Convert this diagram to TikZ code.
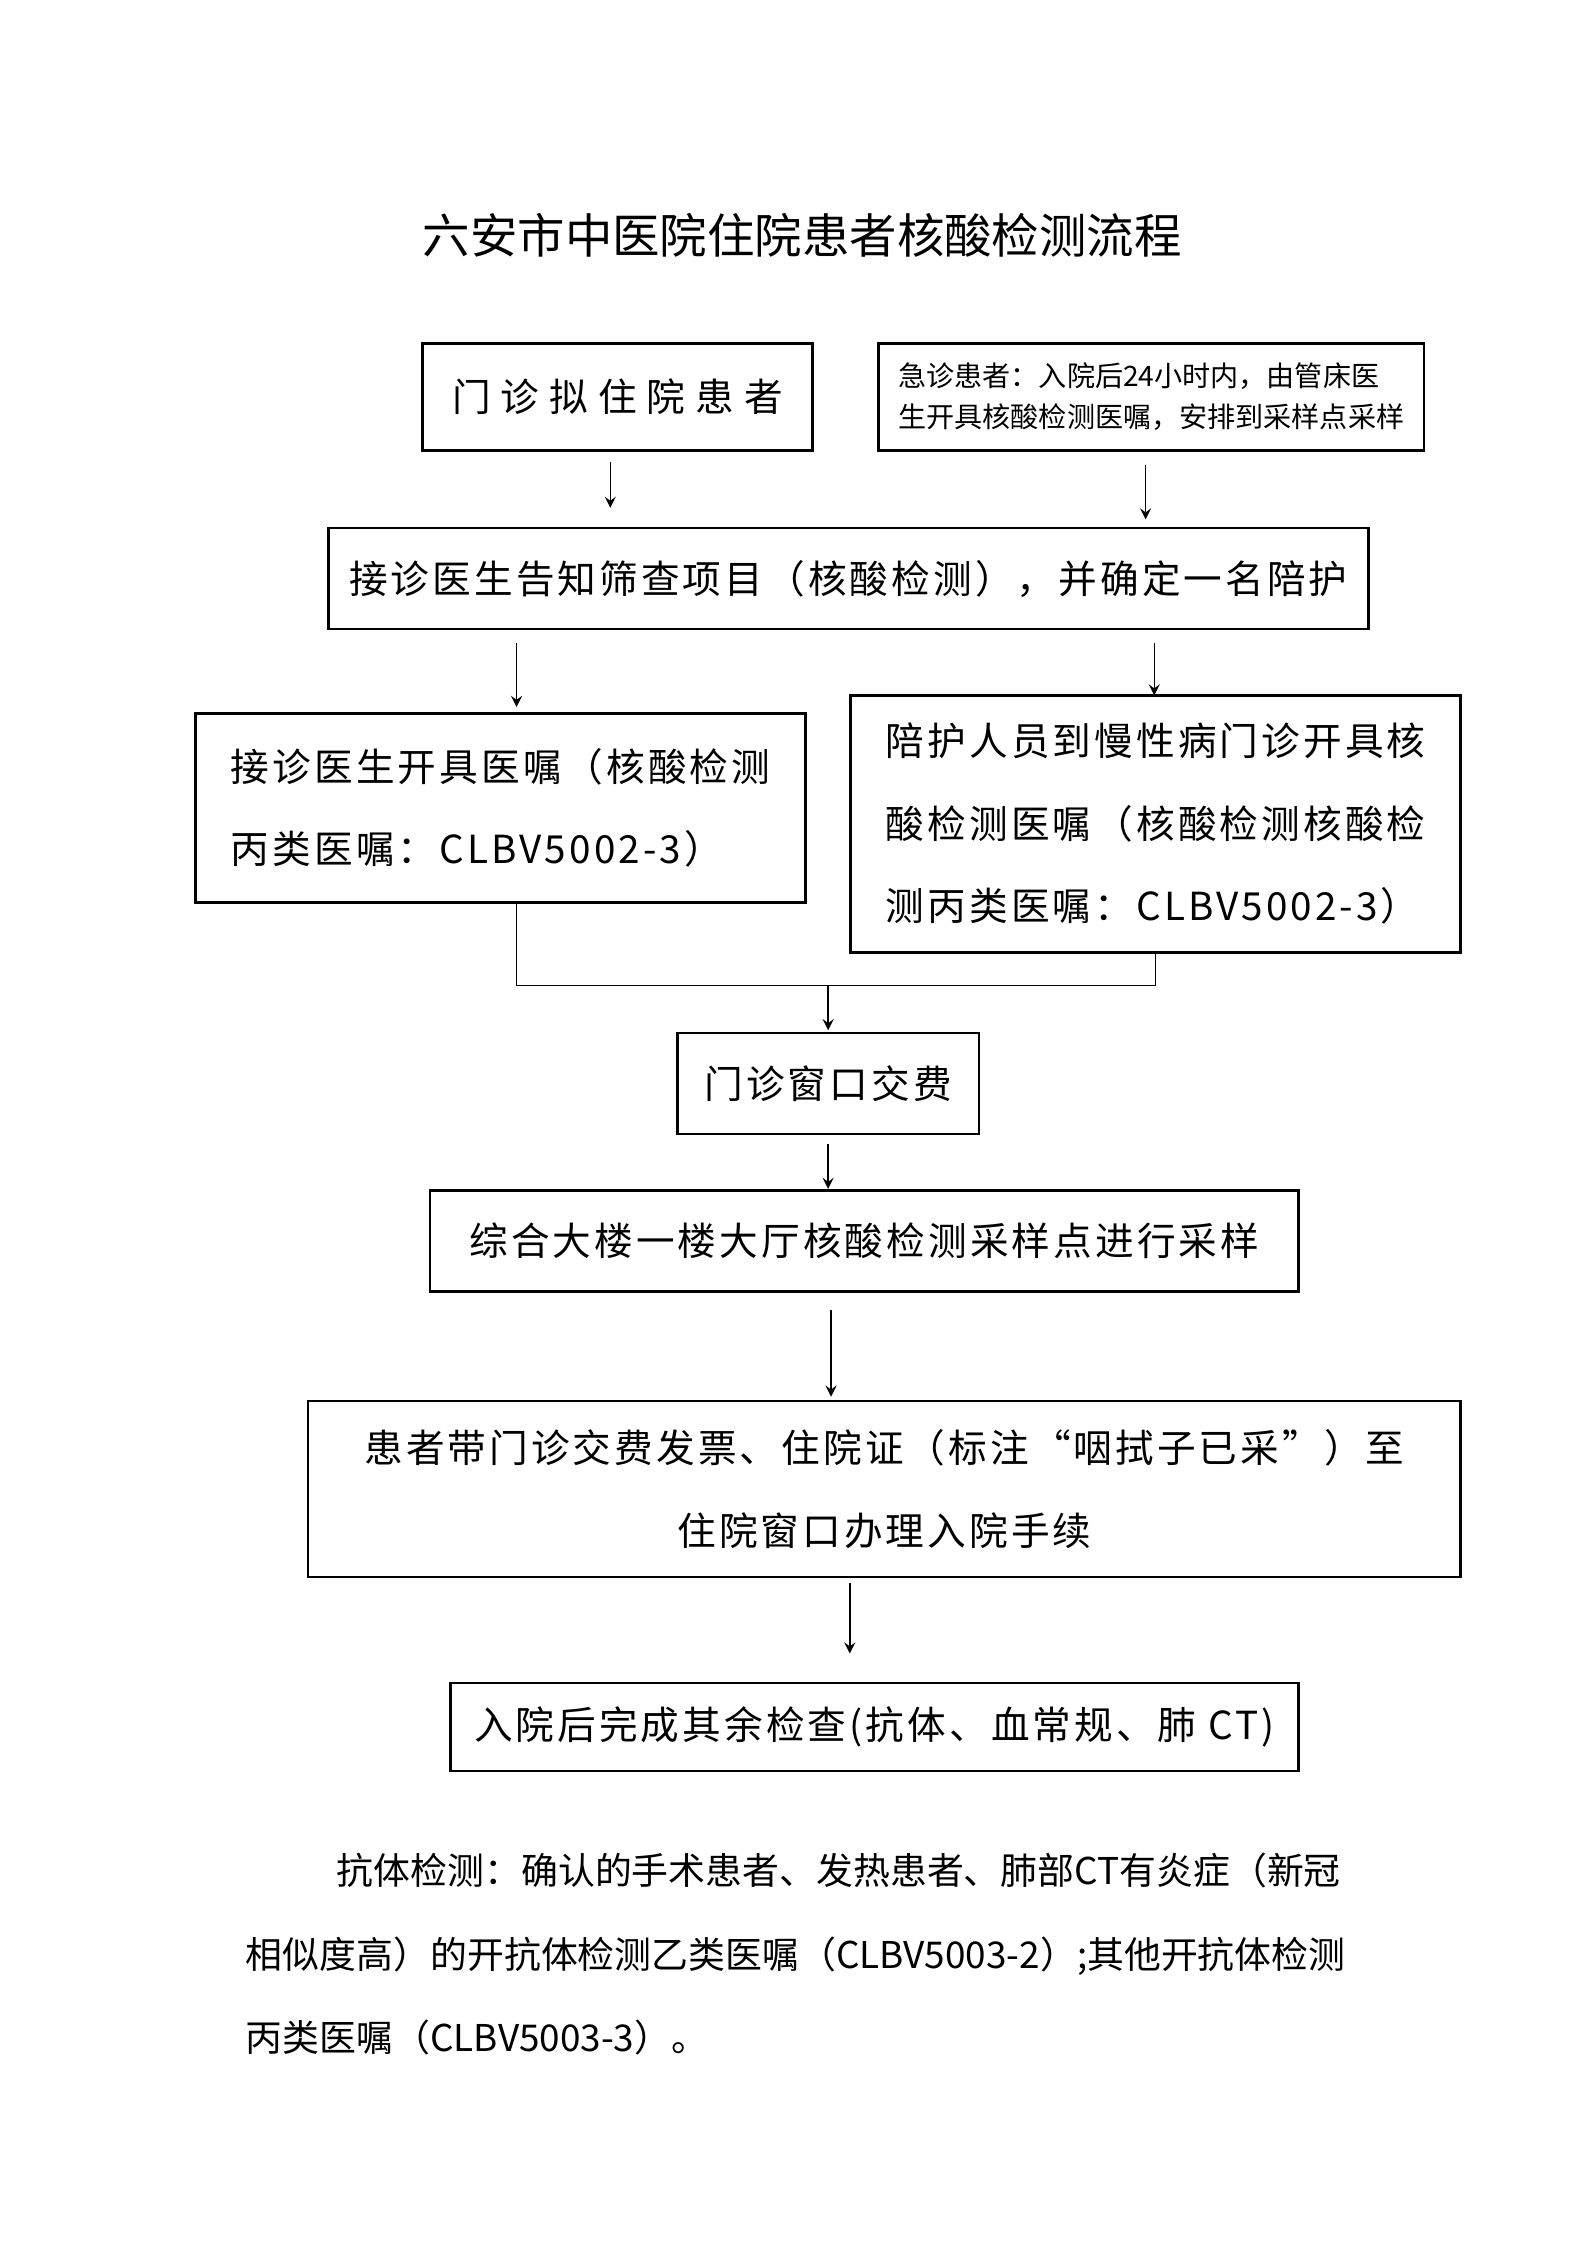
\documentclass[tikz,border=0pt]{standalone}
\usepackage{fontspec}
\setmainfont{Noto Sans CJK SC}
\newfontfamily\boxfont[LetterSpace=8]{Noto Sans CJK SC}
\newfontfamily\widefont[LetterSpace=26]{Noto Sans CJK SC}
\usetikzlibrary{positioning}
\tikzset{
  flowbox/.style={draw=black, thick, inner sep=0pt, font=\fontsize{11}{23.5}\selectfont\boxfont},
  flowarrow/.style={->, >=stealth, thin}
}
\begin{document}
\begin{tikzpicture}[x=0.01443cm, y=-0.01443cm]
  \useasboundingbox (0,0) rectangle (1100,1556);
  \node[font=\fontsize{13.5}{16}\selectfont] (title) at (556,163) {六安市中医院住院患者核酸检测流程};

  \node[flowbox, font=\fontsize{11}{16}\selectfont\widefont, minimum width=270*0.01443cm, minimum height=74*0.01443cm] (outpt) at (428,275) {门诊拟住院患者};
  \node[flowbox, font=\fontsize{8}{11.5}\selectfont, minimum width=378*0.01443cm, minimum height=74*0.01443cm, align=left] (emerg) at (798,275) {急诊患者：入院后24小时内，由管床医\\生开具核酸检测医嘱，安排到采样点采样};
  \node[flowbox, minimum width=721*0.01443cm, minimum height=70*0.01443cm] (notify) at (588,401) {接诊医生告知筛查项目（核酸检测），并确定一名陪护};
  \node[flowbox, minimum width=423*0.01443cm, minimum height=131*0.01443cm, align=left] (order) at (347,560) {接诊医生开具医嘱（核酸检测\\丙类医嘱：CLBV5002-3）};
  \node[flowbox, minimum width=423*0.01443cm, minimum height=178*0.01443cm, align=left] (escort) at (801,571) {陪护人员到慢性病门诊开具核\\酸检测医嘱（核酸检测核酸检\\测丙类医嘱：CLBV5002-3）};
  \node[flowbox, minimum width=209*0.01443cm, minimum height=70*0.01443cm] (pay) at (574,751) {门诊窗口交费};
  \node[flowbox, minimum width=602*0.01443cm, minimum height=70*0.01443cm] (sample) at (599,860) {综合大楼一楼大厅核酸检测采样点进行采样};
  \node[flowbox, minimum width=799*0.01443cm, minimum height=122*0.01443cm, align=center] (admit) at (613,1032) {患者带门诊交费发票、住院证（标注“咽拭子已采”）至\\住院窗口办理入院手续};
  \node[flowbox, minimum width=588*0.01443cm, minimum height=61*0.01443cm] (rest) at (606,1197) {入院后完成其余检查(抗体、血常规、肺 CT)};

  \node[anchor=north west, inner sep=0pt, align=left, font=\fontsize{10.5}{23.7}\selectfont] (note) at (170,1284) {\hspace*{63\dimexpr0.01443cm\relax}抗体检测：确认的手术患者、发热患者、肺部CT有炎症（新冠\\相似度高）的开抗体检测乙类医嘱（CLBV5003-2）;其他开抗体检测\\丙类医嘱（CLBV5003-3）。};

  % arrows
  \coordinate (a1) at (423,320); \coordinate (b1) at (423,352);
  \coordinate (a2) at (794,322); \coordinate (b2) at (794,360);
  \coordinate (a3) at (358,446); \coordinate (b3) at (358,490);
  \coordinate (a4) at (800,446); \coordinate (b4) at (800,482);
  \coordinate (m1) at (358,683); \coordinate (m2) at (801,683); \coordinate (m0) at (574,683);
  \coordinate (b5) at (574,714);
  \coordinate (a6) at (574,793); \coordinate (b6) at (574,824);
  \coordinate (a7) at (576,908); \coordinate (b7) at (576,968);
  \coordinate (a8) at (589,1097); \coordinate (b8) at (589,1146);
  \draw[flowarrow] (a1) -- (b1);
  \draw[flowarrow] (a2) -- (b2);
  \draw[flowarrow] (a3) -- (b3);
  \draw[flowarrow] (a4) -- (b4);
  \draw (order.south -| m1) -- (m1) -- (m2) -- (escort.south -| m2);
  \draw[flowarrow] (m0) -- (b5);
  \draw[flowarrow] (a6) -- (b6);
  \draw[flowarrow] (a7) -- (b7);
  \draw[flowarrow] (a8) -- (b8);
\end{tikzpicture}
\end{document}
